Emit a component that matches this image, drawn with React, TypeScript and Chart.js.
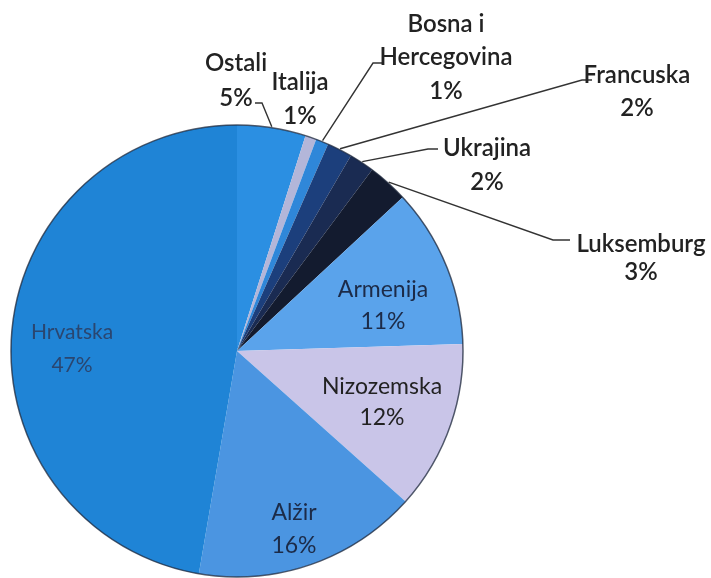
import React, { useEffect, useRef } from "react";
import { Chart, registerables } from "chart.js";

Chart.register(...registerables);

// Data (clockwise from 12 o'clock)
const categories = ["Ostali", "Italija", "Bosna i Hercegovina", "Francuska", "Ukrajina", "Luksemburg", "Armenija", "Nizozemska", "Alžir", "Hrvatska"];
const shares = [4.9, 0.8, 0.9, 1.8, 1.8, 2.9, 11.4, 12.1, 16.1, 47.3];
const percentLabels = ["5%", "1%", "1%", "2%", "2%", "3%", "11%", "12%", "16%", "47%"];
const nameLines = [["Ostali"], ["Italija"], ["Bosna i", "Hercegovina"], ["Francuska"], ["Ukrajina"], ["Luksemburg"], ["Armenija"], ["Nizozemska"], ["Alžir"], ["Hrvatska"]];

const sliceColors = ["#2b8fe2", "#b3b6d9", "#2f87d9", "#1c3f7c", "#1a2b52", "#131b2f", "#5aa3eb", "#c9c5e8", "#4b95e1", "#1f84d6"];

// Label layout, relative to the pie centre
type Layout = { dx: number; dy: number; gap: number; size: number; weight: string; color: string; leader?: number[][] };
const labelLayout: Layout[] = [
  { dx: -1, dy: -288, gap: 35, size: 24, weight: "600", color: "#222", leader: [[25, -248], [18, -248]] },
  { dx: 63, dy: -269, gap: 34, size: 24, weight: "600", color: "#222" },
  { dx: 209, dy: -327, gap: 33.5, size: 24, weight: "600", color: "#222", leader: [[136, -288], [146, -288]] },
  { dx: 400, dy: -276, gap: 33, size: 24, weight: "600", color: "#222", leader: [[345, -271], [355, -271]] },
  { dx: 250, dy: -203, gap: 34, size: 24, weight: "600", color: "#222", leader: [[191, -202], [201, -202]] },
  { dx: 404, dy: -107, gap: 28, size: 24, weight: "600", color: "#222", leader: [[316, -111], [333, -111]] },
  { dx: 146, dy: -61, gap: 32, size: 23, weight: "normal", color: "#1c2b48" },
  { dx: 145, dy: 36, gap: 31, size: 23, weight: "normal", color: "#222" },
  { dx: 57, dy: 162, gap: 33, size: 23, weight: "normal", color: "#1c2b48" },
  { dx: -165, dy: -19, gap: 33, size: 21, weight: "normal", color: "#2a4670" },
];

const labelPlugin = {
  id: "pieLabels",
  afterDatasetsDraw(chart: any) {
    const ctx = chart.ctx;
    const meta = chart.getDatasetMeta(0);
    if (!meta.data.length) return;
    const first = meta.data[0];
    const cx = first.x;
    const cy = first.y;
    const R = first.outerRadius;
    ctx.save();
    // outer outline
    ctx.beginPath();
    ctx.arc(cx, cy, R, 0, Math.PI * 2);
    ctx.strokeStyle = "rgba(30,40,60,0.75)";
    ctx.lineWidth = 1.5;
    ctx.stroke();

    meta.data.forEach((arc: any, i: number) => {
      const lay = labelLayout[i];
      const mid = (arc.startAngle + arc.endAngle) / 2;
      if (lay.leader) {
        ctx.beginPath();
        ctx.moveTo(cx + Math.cos(mid) * (R + 1), cy + Math.sin(mid) * (R + 1));
        lay.leader.forEach((p) => ctx.lineTo(cx + p[0], cy + p[1]));
        ctx.strokeStyle = "#333";
        ctx.lineWidth = 1.4;
        ctx.stroke();
      }
      const lines = [...nameLines[i], percentLabels[i]];
      ctx.font = `${lay.weight} ${lay.size}px Lato, "Open Sans", sans-serif`;
      ctx.fillStyle = lay.color;
      ctx.textAlign = "center";
      ctx.textBaseline = "middle";
      lines.forEach((t, k) => {
        ctx.fillText(t, cx + lay.dx, cy + lay.dy + k * lay.gap);
      });
    });
    ctx.restore();
  },
};

export default function App() {
  const canvasRef = useRef<HTMLCanvasElement | null>(null);
  useEffect(() => {
    if (!canvasRef.current) return;
    const chart = new Chart(canvasRef.current, {
      type: "pie",
      data: {
        labels: categories,
        datasets: [
          {
            data: shares,
            backgroundColor: sliceColors,
            borderWidth: 0,
            hoverOffset: 0,
          },
        ],
      },
      options: {
        animation: false,
        responsive: true,
        maintainAspectRatio: false,
        layout: { padding: { left: 11, right: 248, top: 125, bottom: 1 } },
        plugins: {
          legend: { display: false },
          tooltip: { enabled: false },
        },
      },
      plugins: [labelPlugin],
    });
    return () => chart.destroy();
  }, []);
  return (
    <div style={{ position: "fixed", left: 0, top: 0, width: 711, height: 578, background: "#fff" }}>
      <canvas ref={canvasRef} />
    </div>
  );
}
